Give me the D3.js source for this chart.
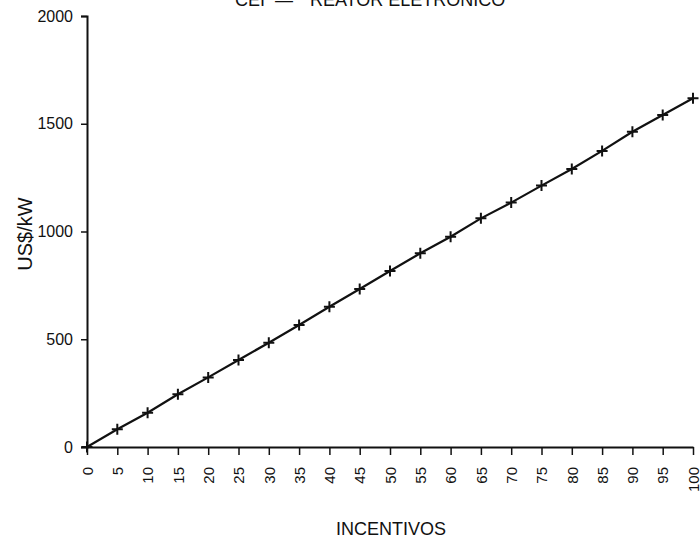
<!DOCTYPE html>
<html>
<head>
<meta charset="utf-8">
<script src="https://cdn.jsdelivr.net/npm/d3@7"></script>
<style>
  html, body { margin: 0; padding: 0; background: #fff; }
  svg { display: block; }
  text { font-family: "Liberation Sans", Arial, sans-serif; fill: #111; }
</style>
</head>
<body>
<svg id="chart" width="700" height="541"></svg>
<script>
// Incentive level (%) and the resulting cost in US$/kW
const incentivos = [0, 5, 10, 15, 20, 25, 30, 35, 40, 45, 50, 55, 60, 65, 70, 75, 80, 85, 90, 95, 100];
const custo = [0, 82, 159, 245, 323, 404, 484, 566, 651, 733, 817, 899, 976, 1061, 1134, 1213, 1290, 1374, 1463, 1541, 1618];
const yTicks = [0, 500, 1000, 1500, 2000];
const xTicks = [0, 5, 10, 15, 20, 25, 30, 35, 40, 45, 50, 55, 60, 65, 70, 75, 80, 85, 90, 95, 100];

const tituloA = "CEI";
const tituloB = "—";
const tituloC = "REATOR ELETRÔNICO";
const eixoX = "INCENTIVOS";
const eixoY = "US$/kW";

const svg = d3.select("#chart");
const margin = { left: 87, right: 7, top: 16, bottom: 94 };
const W = 700, H = 541;

const x = d3.scaleLinear().domain([0, 100]).range([margin.left, W - margin.right]);
const y = d3.scaleLinear().domain([0, 2000]).range([H - margin.bottom, margin.top]);

const ink = "#111";

// Y axis
const gy = svg.append("g")
  .attr("transform", `translate(${margin.left},0)`)
  .call(d3.axisLeft(y).tickValues(yTicks).tickSize(6).tickPadding(8).tickFormat(d3.format("d")));
gy.select(".domain").attr("stroke", ink).attr("stroke-width", 2);
gy.selectAll(".tick line").attr("stroke", ink).attr("stroke-width", 1.5);
gy.selectAll(".tick text").attr("font-size", 16).attr("fill", ink)
  .attr("font-family", "'Liberation Sans', Arial, sans-serif");

// X axis
const gx = svg.append("g")
  .attr("transform", `translate(0,${y(0)})`)
  .call(d3.axisBottom(x).tickValues(xTicks).tickSize(8).tickSizeOuter(0).tickFormat(d3.format("d")));
gx.select(".domain").attr("stroke", ink).attr("stroke-width", 2);
gx.selectAll(".tick line").attr("stroke", ink).attr("stroke-width", 1.5);
gx.selectAll(".tick text")
  .attr("font-size", 15).attr("fill", ink)
  .attr("font-family", "'Liberation Sans', Arial, sans-serif")
  .attr("text-anchor", "end")
  .attr("dy", "0.35em")
  .attr("transform", "translate(0,20) rotate(-90)")
  .attr("x", 0).attr("y", 0);

// Data line
const line = d3.line().x((d, i) => x(incentivos[i])).y(d => y(d));
svg.append("path")
  .datum(custo)
  .attr("fill", "none")
  .attr("stroke", ink)
  .attr("stroke-width", 2.2)
  .attr("d", line);

// Plus markers
const s = 5.5;
svg.append("g").selectAll("path.mk")
  .data(custo)
  .join("path")
  .attr("class", "mk")
  .attr("fill", "none")
  .attr("stroke", ink)
  .attr("stroke-width", 2)
  .attr("d", (d, i) => {
    const cx = x(incentivos[i]), cy = y(d);
    return `M${cx - s},${cy}H${cx + s}M${cx},${cy - s}V${cy + s}`;
  });

// Title, set against the top edge
const title = svg.append("g").attr("font-size", 18);
title.append("text").attr("x", 235).attr("y", 6).text(tituloA);
title.append("text").attr("x", 284).attr("y", 6).attr("text-anchor", "middle").text(tituloB);
title.append("text").attr("x", 310).attr("y", 6).text(tituloC);

// Axis titles
svg.append("text")
  .attr("x", 391).attr("y", 535)
  .attr("text-anchor", "middle")
  .attr("font-size", 18)
  .text(eixoX);

svg.append("text")
  .attr("transform", "translate(32,234) rotate(-90)")
  .attr("text-anchor", "middle")
  .attr("font-size", 20)
  .text(eixoY);
</script>
</body>
</html>
